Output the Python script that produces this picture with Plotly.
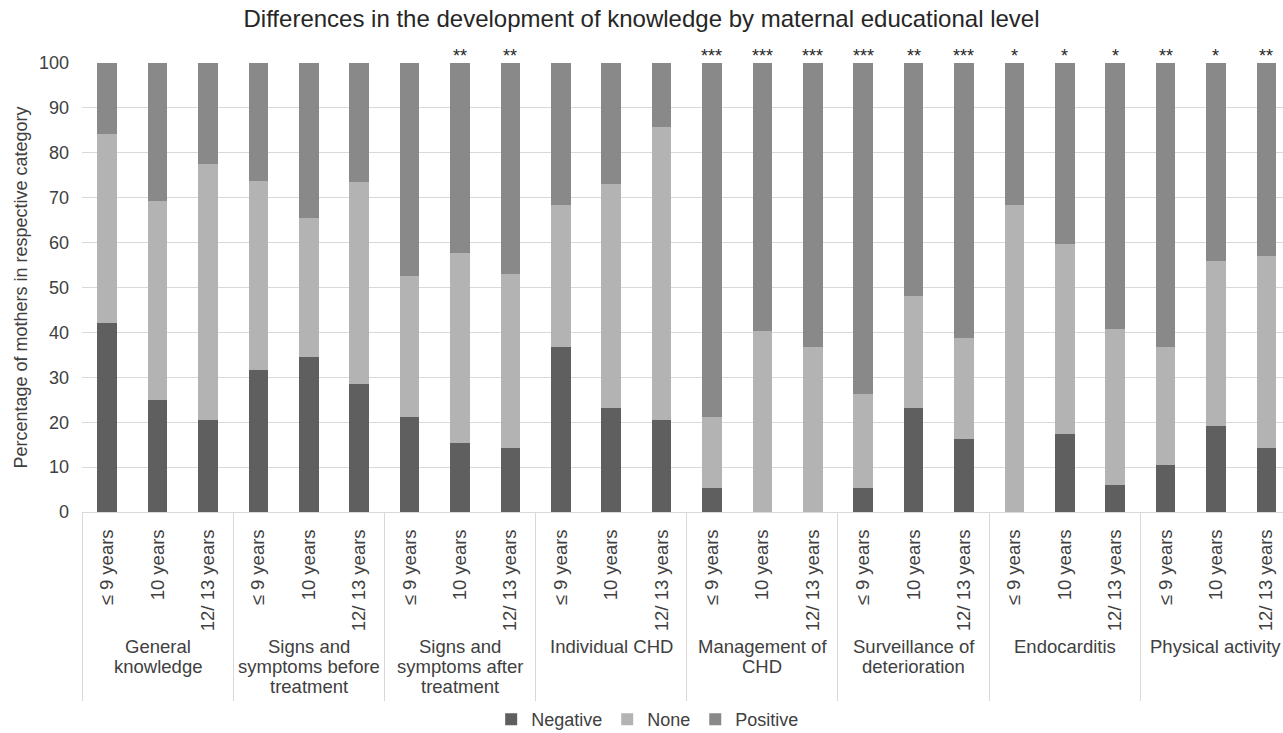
import plotly.graph_objects as go

# Knowledge domains (group labels, line breaks as printed)
domains = [
    ["General", "knowledge"],
    ["Signs and", "symptoms before", "treatment"],
    ["Signs and", "symptoms after", "treatment"],
    ["Individual CHD"],
    ["Management of", "CHD"],
    ["Surveillance of", "deterioration"],
    ["Endocarditis"],
    ["Physical activity"],
]
# Maternal education levels within each domain
levels = ["≤ 9 years", "10 years", "12/ 13 years"]

# Percentages per bar (domain-major order, three levels each)
negative = [42.1, 25.0, 20.4, 31.6, 34.6, 28.6, 21.1, 15.4, 14.3, 36.8, 23.1, 20.4,
            5.3, 0.0, 0.0, 5.3, 23.1, 16.3, 0.0, 17.3, 6.1, 10.5, 19.2, 14.3]
none = [42.1, 44.2, 57.2, 42.1, 30.8, 44.9, 31.5, 42.3, 38.8, 31.6, 50.0, 65.3,
        15.8, 40.4, 36.7, 21.0, 25.0, 22.5, 68.4, 42.3, 34.7, 26.3, 36.6, 42.8]
positive = [15.8, 30.8, 22.4, 26.3, 34.6, 26.5, 47.4, 42.3, 46.9, 31.6, 26.9, 14.3,
            78.9, 59.6, 63.3, 73.7, 51.9, 61.2, 31.6, 40.4, 59.2, 63.2, 44.2, 42.9]
# Significance markers above each bar
significance = ["", "", "", "", "", "", "", "**", "**", "", "", "",
                "***", "***", "***", "***", "**", "***", "*", "*", "*", "**", "*", "**"]

FONT = "Liberation Sans, Arial, sans-serif"
TXT = "#404040"
GRID = "#d9d9d9"

n_lv = len(levels)
xpos = list(range(len(domains) * n_lv))
ticktext = levels * len(domains)

fig = go.Figure()
for name, vals, col in [("Negative", negative, "#5f5f5f"),
                        ("None", none, "#b3b3b3"),
                        ("Positive", positive, "#898989")]:
    fig.add_trace(go.Bar(x=xpos, y=vals, name=name, marker_color=col,
                         marker_line_width=0))

# significance stars
for x, s in zip(xpos, significance):
    if s:
        fig.add_annotation(x=x, y=100, xref="x", yref="y", text=s, showarrow=False,
                           yanchor="bottom", yshift=-5,
                           font=dict(family=FONT, size=18, color="#262626"))

# domain labels under the level labels
for gi, lines in enumerate(domains):
    cx = gi * n_lv + (n_lv - 1) / 2
    for li, line in enumerate(lines):
        fig.add_annotation(x=cx, xref="x", y=-0.3 - li * 0.0445, yref="paper",
                           text=line, showarrow=False, yanchor="middle",
                           font=dict(family=FONT, size=18.5, color=TXT))

fig.update_layout(
    barmode="stack",
    bargap=0.61,
    width=1283, height=733,
    margin=dict(l=82, r=0, t=63, b=221, autoexpand=False),
    paper_bgcolor="white", plot_bgcolor="white",
    font=dict(family=FONT, size=18, color=TXT),
    title=dict(text="Differences in the development of knowledge by maternal educational level",
               x=0.5, xanchor="center", y=0.975, yanchor="middle",
               font=dict(family=FONT, size=24, color="#262626")),
    legend=dict(orientation="h", x=0.471, xanchor="center", y=-0.462, yanchor="middle",
                font=dict(family=FONT, size=18, color=TXT), itemwidth=30,
                traceorder="normal"),
    showlegend=True,
)
fig.update_xaxes(
    range=[-0.5, 23.33], automargin=False,
    tickmode="array", tickvals=xpos, ticktext=ticktext, tickangle=-90,
    tickfont=dict(family=FONT, size=18.5, color=TXT),
    showgrid=False, showline=True, linecolor=GRID, linewidth=1,
    ticks="outside", ticklen=9, tickcolor="rgba(0,0,0,0)", zeroline=False,
    minor=dict(tickmode="linear", tick0=-0.5, dtick=n_lv, ticks="outside",
               ticklen=188, tickcolor=GRID, tickwidth=1, showgrid=False),
)
fig.update_yaxes(
    range=[0, 100], dtick=10, showgrid=True, gridcolor=GRID, gridwidth=1,
    automargin=False,
    zeroline=True, zerolinecolor=GRID, zerolinewidth=1,
    tickfont=dict(family=FONT, size=18, color=TXT), ticklabelstandoff=12,
    title=dict(text="Percentage of mothers in respective category",
               font=dict(family=FONT, size=18, color=TXT), standoff=6),
)

fig.write_html("out.html")
